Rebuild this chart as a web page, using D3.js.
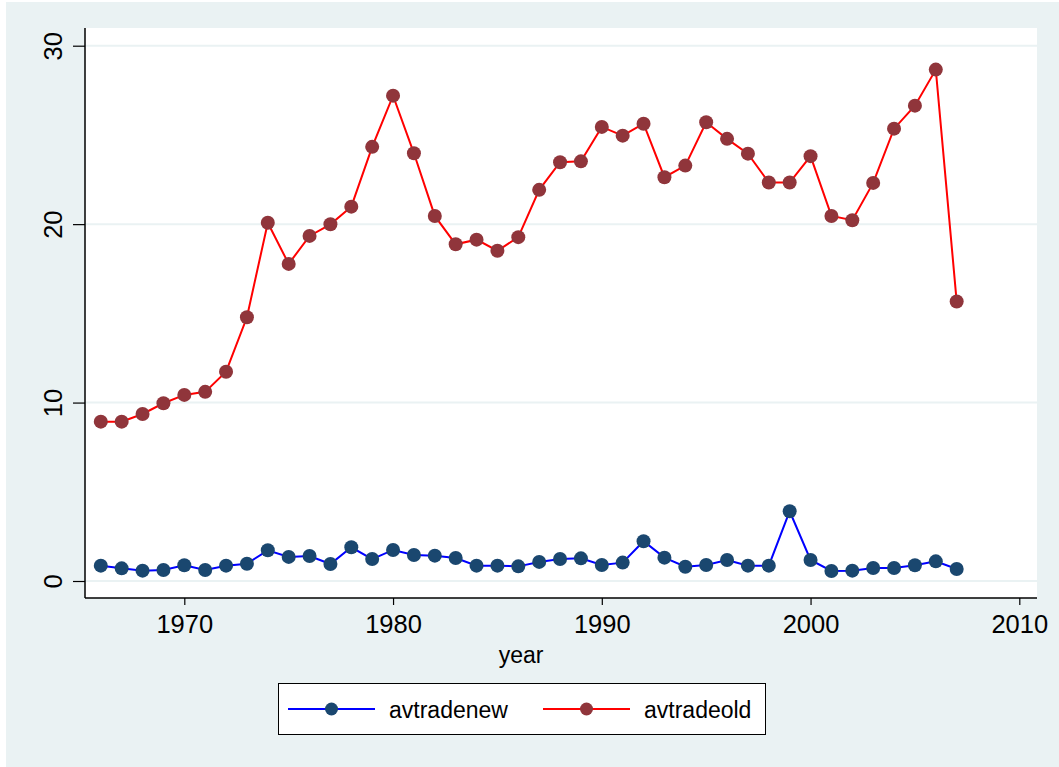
<!DOCTYPE html>
<html>
<head>
<meta charset="utf-8">
<script src="https://cdn.jsdelivr.net/npm/d3@7"></script>
<style>
  body { margin: 0; background: #fff; }
  text { font-family: "Liberation Sans", Arial, sans-serif; fill: #000; }
</style>
</head>
<body>
<svg id="chart" width="1059" height="767"></svg>
<script>
const years = d3.range(1966, 2008);

const avtradenew = [
  0.86, 0.71, 0.58, 0.62, 0.88, 0.62, 0.86, 0.97, 1.72, 1.35,
  1.40, 0.95, 1.89, 1.23, 1.74, 1.46, 1.42, 1.29, 0.86, 0.86,
  0.82, 1.07, 1.23, 1.27, 0.90, 1.03, 2.23, 1.31, 0.80, 0.90,
  1.18, 0.86, 0.86, 3.91, 1.18, 0.56, 0.58, 0.73, 0.73, 0.88,
  1.10, 0.67
];

const avtradeold = [
  8.93, 8.93, 9.36, 9.96, 10.43, 10.60, 11.73, 14.78, 20.08, 17.77,
  19.34, 19.99, 20.98, 24.33, 27.20, 23.97, 20.46, 18.87, 19.13, 18.51,
  19.27, 21.92, 23.47, 23.52, 25.45, 24.96, 25.63, 22.63, 23.28, 25.71,
  24.78, 23.95, 22.33, 22.33, 23.81, 20.46, 20.22, 22.31, 25.35, 26.64,
  28.66, 15.66
];

const xTicks = [1970, 1980, 1990, 2000, 2010];
const yTicks = [0, 10, 20, 30];

const series = [
  { name: "avtradenew", values: avtradenew, line: "#0000ff", marker: "#1a476f" },
  { name: "avtradeold", values: avtradeold, line: "#ff0000", marker: "#90353b" }
];

const svg = d3.select("#chart"),
  width = +svg.attr("width"),
  height = +svg.attr("height");

const plot = { left: 85, right: 1037, top: 28, bottom: 598 };

// outer background
svg.append("rect")
  .attr("x", 6).attr("y", 2)
  .attr("width", width - 6).attr("height", height - 2)
  .attr("fill", "#eaf2f3");

svg.append("rect")
  .attr("x", plot.left).attr("y", plot.top)
  .attr("width", plot.right - plot.left)
  .attr("height", plot.bottom - plot.top)
  .attr("fill", "#fff");

const x = d3.scaleLinear().domain([1970, 2010]).range([184.3, 1019.3]);
const y = d3.scaleLinear().domain([0, 30]).range([581, 45.7]);

// gridlines
svg.append("g")
  .selectAll("line")
  .data(yTicks)
  .join("line")
  .attr("x1", plot.left).attr("x2", plot.right)
  .attr("y1", (d) => y(d)).attr("y2", (d) => y(d))
  .attr("stroke", "#eaf2f3")
  .attr("stroke-width", 2);

// Y axis
const yAxis = svg.append("g")
  .attr("transform", `translate(${plot.left},0)`)
  .call(d3.axisLeft(y).tickValues(yTicks).tickSize(12).tickPadding(10).tickSizeOuter(0));
yAxis.select(".domain").remove();
yAxis.append("line")
  .attr("y1", plot.top).attr("y2", plot.bottom)
  .attr("stroke", "#000").attr("stroke-width", 1.5);
yAxis.selectAll(".tick line").attr("stroke", "#000").attr("stroke-width", 1.2);
yAxis.selectAll(".tick text")
  .attr("x", 0).attr("dy", null)
  .attr("transform", "translate(-23,0) rotate(-90)")
  .attr("text-anchor", "middle")
  .style("font-size", "25.5px")
  .style("font-family", "Liberation Sans, Arial, sans-serif");

// X axis
const xAxis = svg.append("g")
  .attr("transform", `translate(0,${plot.bottom})`)
  .call(d3.axisBottom(x).tickValues(xTicks).tickFormat(d3.format("d")).tickSize(7).tickPadding(10).tickSizeOuter(0));
xAxis.select(".domain").remove();
xAxis.append("line")
  .attr("x1", plot.left).attr("x2", plot.right)
  .attr("stroke", "#000").attr("stroke-width", 1.5);
xAxis.selectAll(".tick line").attr("stroke", "#000").attr("stroke-width", 1.2);
xAxis.selectAll(".tick text")
  .style("font-size", "25.5px")
  .style("font-family", "Liberation Sans, Arial, sans-serif");

svg.append("text")
  .attr("x", 521).attr("y", 663)
  .attr("text-anchor", "middle")
  .style("font-size", "23px")
  .text("year");

// Lines and markers
const line = d3.line()
  .x((d, i) => x(years[i]))
  .y((d) => y(d));

series.forEach((s) => {
  svg.append("path")
    .datum(s.values)
    .attr("d", line)
    .attr("fill", "none")
    .attr("stroke", s.line)
    .attr("stroke-width", 2);

  svg.append("g")
    .selectAll("circle")
    .data(s.values)
    .join("circle")
    .attr("cx", (d, i) => x(years[i]))
    .attr("cy", (d) => y(d))
    .attr("r", 7)
    .attr("fill", s.marker);
});

// Legend
const legend = svg.append("g");
legend.append("rect")
  .attr("x", 278.5).attr("y", 683.5)
  .attr("width", 487).attr("height", 51)
  .attr("fill", "#fff")
  .attr("stroke", "#000")
  .attr("stroke-width", 1);

const legendX = [288, 543];
series.forEach((s, i) => {
  const lx = legendX[i];
  legend.append("line")
    .attr("x1", lx).attr("x2", lx + 87)
    .attr("y1", 709).attr("y2", 709)
    .attr("stroke", s.line).attr("stroke-width", 2);
  legend.append("circle")
    .attr("cx", lx + 43.5).attr("cy", 709)
    .attr("r", 6.5)
    .attr("fill", s.marker);
  legend.append("text")
    .attr("x", lx + 101).attr("y", 718)
    .style("font-size", "23px")
    .text(s.name);
});
</script>
</body>
</html>
